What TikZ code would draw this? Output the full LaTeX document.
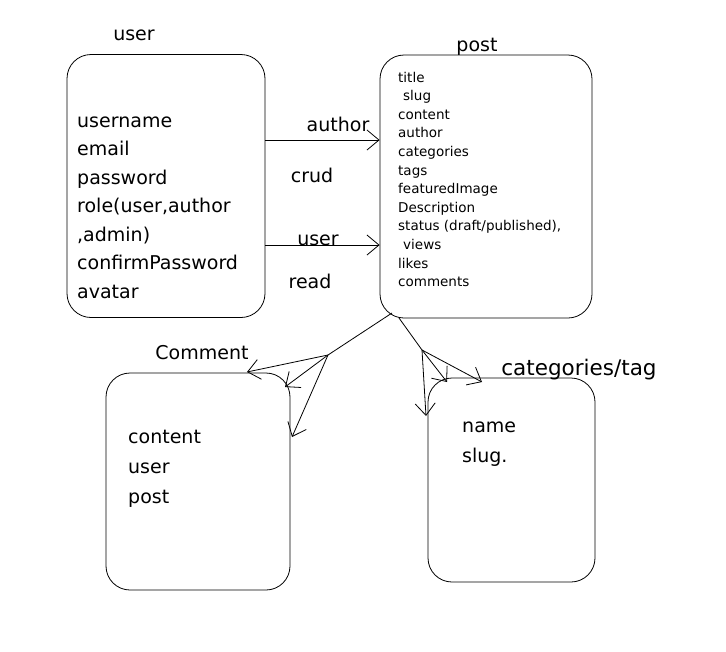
\documentclass[tikz,border=0pt]{standalone}
\usepackage{fontspec}
\setmainfont{DejaVu Sans}
\usetikzlibrary{arrows.meta,positioning}

\tikzset{
  entity/.style={draw,thick,rounded corners=24pt,inner sep=0pt},
  bigfield/.style={anchor=base west,inner sep=0pt,font=\fontsize{19}{22}\selectfont},
  smallfield/.style={anchor=base west,inner sep=0pt,font=\fontsize{13.5}{16}\selectfont},
  lbl/.style={inner sep=1pt,font=\fontsize{19}{22}\selectfont},
  rel/.style={-{Straight Barb[length=12pt,width=20pt]},thick}
}

\begin{document}
\begin{tikzpicture}[x=1pt,y=-1pt]
    \useasboundingbox (0,0) rectangle (726,651);

    % entities
    \node[entity,minimum width=198pt,minimum height=263pt] (user) at (166,186) {};
    \node[entity,minimum width=212pt,minimum height=263pt] (post) at (486,186.5) {};
    \node[entity,minimum width=184pt,minimum height=217pt] (comment) at (198,481.5) {};
    \node[entity,minimum width=167pt,minimum height=204pt] (cat) at (511.5,480) {};

    \node[lbl] (userT) at (134,35) {user};
    \node[lbl] (postT) at (477,47) {post};
    \node[lbl] (commentT) at (202,353) {Comment};
    \node[lbl,font=\fontsize{21.5}{24}\selectfont] (catT) at (579,370) {categories/tag};

    % fields
    \foreach \t [count=\i from 0] in {username,email,password,{role(user,author},{,admin)},confirmPassword,avatar}
      \node[bigfield] (uf\i) at (77,127+28.5*\i) {\t};

    \foreach \t/\dx [count=\i from 0] in {title/0,slug/5,content/0,author/0,categories/0,tags/0,featuredImage/0,Description/0,{status (draft/published),}/0,views/5,likes/0,comments/0}
      \node[smallfield] (pf\i) at (398+\dx,82+18.6*\i) {\t};

    \foreach \t [count=\i from 0] in {content,user,post}
      \node[bigfield] (cf\i) at (128,443+30*\i) {\t};

    \foreach \t [count=\i from 0] in {name,slug.}
      \node[bigfield] (tf\i) at (462,432+30*\i) {\t};

    % relations user -> post
    \draw[rel] (user.east |- 0,140) -- (post.west |- 0,140);
    \node[lbl] (author) at (338,124) {author};
    \node[lbl] (crud) at (312,175) {crud};
    \draw[rel] (user.east |- 0,245) -- (post.west |- 0,245);
    \node[lbl] (userR) at (318,240) {user};
    \node[lbl] (read) at (310,281) {read};

    % relations post -> comment, categories
    \coordinate (pc) at (392,313);
    \coordinate (pt) at (399,318);
    \draw[rel] (pc) -- (328,355) -- (247,372);
    \draw[rel] (328,355) -- (285,387);
    \draw[rel] (328,355) -- (292,437);
    \draw[rel] (pt) -- (422,350) -- (426,416);
    \draw[rel] (422,350) -- (447,382);
    \draw[rel] (422,350) -- (482,382);
\end{tikzpicture}
\end{document}
